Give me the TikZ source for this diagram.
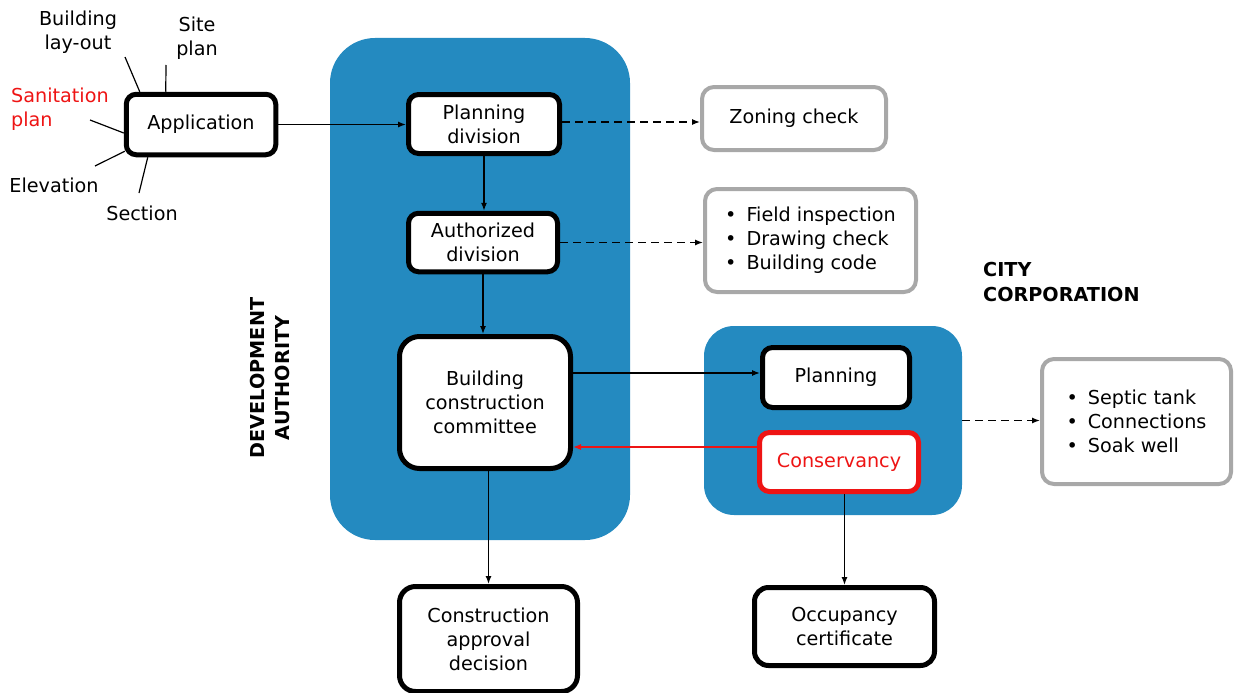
\documentclass[tikz,border=0pt]{standalone}
\usepackage{fontspec}
\setmainfont{DejaVu Sans}
\usetikzlibrary{arrows.meta,calc}
\definecolor{dablue}{RGB}{36,138,192}
\definecolor{lgray}{RGB}{168,168,168}
\definecolor{myred}{RGB}{238,20,20}
\begin{document}
\begin{tikzpicture}[x=1pt,y=-1pt,
  every node/.style={font=\fontsize{19.2}{24}\selectfont, inner sep=0pt},
  blk/.style={draw=black, line width=5pt, fill=white, rounded corners=10pt, align=center},
  redblk/.style={blk, draw=myred, text=myred},
  gbox/.style={draw=lgray, line width=4pt, fill=white, rounded corners=12pt, align=center},
  panel/.style={fill=dablue},
  conn/.style={line width=1.3pt, -{Latex[length=8pt,width=6pt]}},
  dconn/.style={conn, dash pattern=on 8pt off 5pt},
  spoke/.style={line width=1.2pt},
  lbl/.style={align=center},
  biglbl/.style={font=\fontsize{19.2}{25}\selectfont\bfseries, align=left},
  ]
\useasboundingbox (0,0) rectangle (1234,693);

% panels
\node[panel, rounded corners=45pt, minimum width=300pt, minimum height=502pt] (da) at (480,289) {};
\node[panel, rounded corners=30pt, minimum width=258pt, minimum height=189pt] (cc) at (833,420.5) {};

% main nodes
\node[blk, minimum width=149.5pt, minimum height=60.5pt] (app) at (201,124.5) {Application};
\node[blk, minimum width=151pt, minimum height=59pt] (pd) at (484,124) {Planning\\division};
\node[blk, minimum width=149pt, minimum height=58.5pt] (ad) at (483,242.5) {Authorized\\division};
\node[blk, rounded corners=20pt, minimum width=171pt, minimum height=132pt] (bcc) at (485,402.5) {Building\\construction\\committee};
\node[blk, rounded corners=16pt, minimum width=178pt, minimum height=105pt] (cad) at (488.5,639) {Construction\\approval\\decision};
\node[blk, minimum width=147pt, minimum height=60pt] (cp) at (836,377.5) {Planning};
\node[redblk, minimum width=159pt, minimum height=59pt] (cons) at (839,462) {Conservancy};
\node[blk, rounded corners=14pt, minimum width=180pt, minimum height=78pt] (oc) at (844.5,626.5) {Occupancy\\certificate};

% gray boxes
\node[gbox, minimum width=184pt, minimum height=63pt] (zc) at (794,118.5) {Zoning check};
\node[gbox, align=left, minimum width=211pt, minimum height=103pt] (fl) at (810.5,240.5)
  {•\hspace{10pt}Field inspection\\•\hspace{10pt}Drawing check\\•\hspace{10pt}Building code};
\node[gbox, align=left, minimum width=189pt, minimum height=125pt] (sl) at (1136.5,421.5)
  {•\hspace{10pt}Septic tank\\•\hspace{10pt}Connections\\•\hspace{10pt}Soak well};

% labels
\node[lbl] (tlay) at (78,32) {Building\\lay-out};
\node[lbl] (tsite) at (197,38) {Site\\plan};
\node[align=left, anchor=west, text=myred] (tsan) at (11,109) {Sanitation\\plan};
\node[lbl] (telev) at (54,185) {Elevation};
\node[lbl] (tsec) at (142,213) {Section};
\node[biglbl, align=center, rotate=90] (tda) at (270,378) {DEVELOPMENT\\AUTHORITY};
\node[biglbl, anchor=west] (tcc) at (983,282) {CITY\\CORPORATION};

% spokes
\coordinate (slay) at (125,57);
\coordinate (ssite) at (166,65);
\coordinate (ssan) at (90,120);
\coordinate (selev) at (95,166);
\coordinate (ssec) at (139,193);
\draw[spoke] (slay) -- ([xshift=16pt]app.north west);
\draw[spoke] (ssite) -- ([xshift=42pt]app.north west);
\draw[spoke] (ssan) -- ([yshift=-8.5pt]app.west);
\draw[spoke] (selev) -- ([yshift=6pt,xshift=1pt]app.south west);
\draw[spoke] (ssec) -- ([xshift=24pt]app.south west);

% connectors
\draw[conn] (app.east) -- (app.east -| pd.west);
\draw[dconn] ([yshift=2pt]pd.east) -- ([yshift=2pt]pd.east -| zc.west);
\draw[conn] (pd.south) -- (pd.south |- ad.north);
\draw[dconn] (ad.east) -- (ad.east -| fl.west);
\draw[conn] (ad.south) -- (ad.south |- bcc.north);
\coordinate (r0) at ([yshift=4.5pt]cp.west);
\draw[conn] (r0 -| bcc.east) -- (r0);
\coordinate (r1) at ([yshift=15pt]cons.west);
\draw[conn, draw=myred, fill=myred] (r1) -- (r1 -| bcc.east);
\draw[dconn] (cc.east) -- (cc.east -| sl.west);
\draw[conn] (cad.north |- bcc.south) -- (cad.north);
\draw[conn] (oc.north |- cons.south) -- (oc.north);
\end{tikzpicture}
\end{document}
